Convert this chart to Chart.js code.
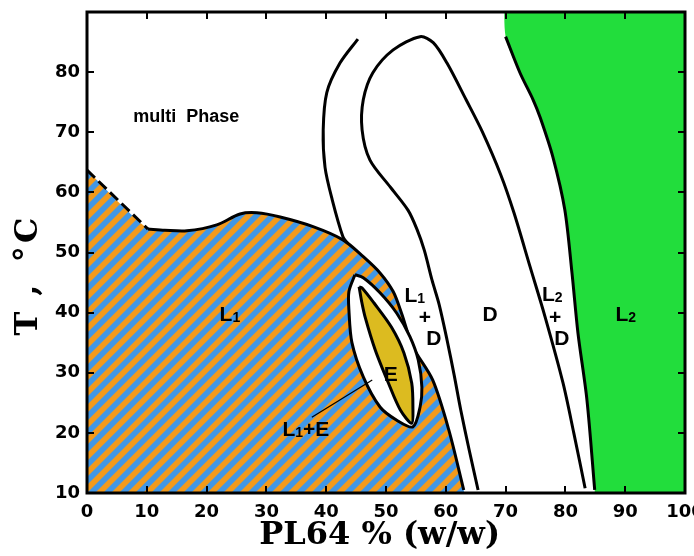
<!DOCTYPE html>
<html>
<head>
<meta charset="utf-8">
<title>PL64 phase diagram</title>
<script src="https://cdn.jsdelivr.net/npm/chart.js@4/dist/chart.umd.min.js"></script>
<style>
  html, body { margin: 0; background: #fff; }
  canvas { display: block; }
</style>
</head>
<body>
<canvas id="phase-chart" width="694" height="556"></canvas>
<script>
/*global Chart */
const xTickValues = [0, 10, 20, 30, 40, 50, 60, 70, 80, 90, 100]
const yTickValues = [10, 20, 30, 40, 50, 60, 70, 80]

// L1 region, dashed top boundary
const dashedX = [0, 10.2]
const dashedY = [63.7, 53.9]

// L1 region, solid boundary down to the x axis
const l1X = [10.2, 13.0, 16.7, 21.7, 25.6, 28.4, 32.3, 37.8, 42.8, 46.2, 49.0, 51.2, 52.6, 54.5, 57.8, 60.5, 63.0]
const l1Y = [53.9, 53.7, 53.6, 54.6, 56.4, 56.6, 55.9, 54.3, 52.1, 49.3, 46.6, 43.5, 39.9, 34.3, 28.8, 20.5, 10.5]

// left line of the loop (meets the L1 boundary)
const lineAX = [45.3, 42.3, 40.1, 39.5, 39.8, 41.0, 42.8, 43.6]
const lineAY = [85.5, 81.5, 76.6, 70.4, 64.2, 58.8, 52.6, 51.5]

// the big inverted U: L1+D on the left, L2+D on the right
const loopX = [65.4, 63.9, 62.5, 61.4, 60.2, 58.9, 57.7, 56.4, 55.2, 53.7, 50.7, 47.3, 46.0, 46.2, 47.8, 51.2, 55.7, 57.9, 60.2, 63.4, 66.1, 69.2, 71.4, 74.1, 76.6, 79.6, 81.4, 83.3]
const loopY = [10.5, 17.2, 23.8, 29.6, 35.5, 41.3, 45.4, 50.4, 53.8, 57.0, 60.9, 65.4, 70.4, 75.4, 79.9, 83.7, 85.9, 84.9, 81.5, 75.4, 70.1, 62.9, 56.6, 47.6, 39.3, 28.3, 20.0, 10.8]

// L2 boundary
const l2X = [70.0, 72.4, 74.6, 75.8, 77.9, 79.9, 81.1, 82.1, 83.6, 84.9]
const l2Y = [85.9, 79.9, 75.4, 72.4, 65.9, 57.1, 46.6, 36.6, 25.5, 10.5]

// L1+E lens (outer) and E (inner)
const lensX = [44.8, 43.8, 43.8, 44.3, 46.2, 49.0, 51.8, 54.5, 55.7, 56.0, 55.4, 54.0, 51.8, 49.0, 46.2, 44.8]
const lensY = [46.3, 43.5, 40.4, 35.0, 29.3, 24.3, 22.1, 21.0, 24.3, 27.6, 32.1, 36.0, 39.9, 43.3, 45.8, 46.3]
const eX = [45.5, 45.9, 46.5, 48.2, 50.4, 52.4, 54.3, 54.5, 54.3, 53.0, 50.9, 48.0, 46.0, 45.5]
const eY = [44.3, 42.0, 39.3, 33.8, 28.3, 23.8, 21.6, 24.3, 28.3, 33.3, 37.6, 41.6, 44.1, 44.3]

// pointer from the L1+E label
const pointerX = [37.6, 47.7]
const pointerY = [22.6, 28.8]

// region labels
const labelText = ['multi  Phase', 'L', 'L', '+', 'D', 'D', 'L', '+', 'D', 'L', 'E', 'L']
const labelSub = ['', '1', '1', '', '', '', '2', '', '', '2', '', '1']
const labelPost = ['', '', '', '', '', '', '', '', '', '', '', '+E']
const labelX = [16.6, 23.9, 54.8, 56.5, 58.0, 67.4, 77.8, 78.3, 79.4, 90.1, 50.8, 36.6]
const labelY = [72.6, 39.5, 42.8, 39.0, 35.5, 39.6, 42.9, 39.1, 35.5, 39.6, 29.6, 20.5]

const orange = '#f29a1c'
const blue = '#4197e6'
const green = '#22dd3c'
const yellow = '#dcbb20'

const points = (xs, ys) => xs.map((x, i) => ({ x, y: ys[i] }))

// diagonal orange/blue bands, rising to the right
const stripes = () => {
  const p = 16
  const tile = document.createElement('canvas')
  tile.width = tile.height = p
  const g = tile.getContext('2d')
  g.fillStyle = blue
  g.fillRect(0, 0, p, p)
  g.fillStyle = orange
  ;[0, p, 2 * p].forEach(c => {
    const a = c - p / 4
    const b = c + p / 4
    g.beginPath()
    g.moveTo(-p, a + p)
    g.lineTo(2 * p, a - 2 * p)
    g.lineTo(2 * p, b - 2 * p)
    g.lineTo(-p, b + p)
    g.closePath()
    g.fill()
  })
  return g.createPattern(tile, 'repeat')
}

const line = (data, extra) => Object.assign({
  data,
  showLine: true,
  borderColor: '#000',
  borderWidth: 3,
  pointRadius: 0,
  tension: 0.3,
  fill: false,
}, extra)

const labelFont = 'bold 21px "Liberation Sans", Arial, sans-serif'
const subFont = 'bold 14px "Liberation Sans", Arial, sans-serif'

const decorations = {
  id: 'decorations',
  afterDatasetsDraw(chart) {
    const { ctx, chartArea: a, scales: { x, y } } = chart
    ctx.save()
    ctx.fillStyle = '#000'
    ctx.textBaseline = 'middle'
    ctx.textAlign = 'left'
    labelText.forEach((text, i) => {
      const font = i === 0 ? 'bold 18px "Liberation Sans", Arial, sans-serif' : labelFont
      ctx.font = font
      const w1 = ctx.measureText(text).width
      const w3 = ctx.measureText(labelPost[i]).width
      ctx.font = subFont
      const w2 = ctx.measureText(labelSub[i]).width
      let px = x.getPixelForValue(labelX[i]) - (w1 + w2 + w3) / 2
      const py = y.getPixelForValue(labelY[i])
      ctx.font = font
      ctx.fillText(text, px, py)
      px += w1
      if (labelSub[i]) {
        ctx.font = subFont
        ctx.fillText(labelSub[i], px, py + 3)
        px += w2
      }
      if (labelPost[i]) {
        ctx.font = font
        ctx.fillText(labelPost[i], px, py)
      }
    })

    ctx.strokeStyle = '#000'
    ctx.lineWidth = 3
    ctx.strokeRect(a.left, a.top, a.right - a.left, a.bottom - a.top)
    ctx.lineWidth = 2
    ctx.beginPath()
    xTickValues.filter(v => v > x.min && v < x.max).forEach(v => {
      const px = Math.round(x.getPixelForValue(v))
      ctx.moveTo(px, a.bottom); ctx.lineTo(px, a.bottom - 7)
      ctx.moveTo(px, a.top); ctx.lineTo(px, a.top + 7)
    })
    yTickValues.filter(v => v > y.min && v < y.max).forEach(v => {
      const py = Math.round(y.getPixelForValue(v))
      ctx.moveTo(a.left, py); ctx.lineTo(a.left + 7, py)
      ctx.moveTo(a.right, py); ctx.lineTo(a.right - 7, py)
    })
    ctx.stroke()
    ctx.restore()
  }
}

const tickFont = { family: '"DejaVu Sans", sans-serif', weight: 'bold', size: 18 }
const titleFont = { family: '"DejaVu Serif", serif', weight: 'bold', size: 32 }

new Chart(document.getElementById('phase-chart'), {
  type: 'scatter',
  data: {
    datasets: [
      line(points(pointerX, pointerY), { borderWidth: 1.3, tension: 0 }),
      line(points(eX, eY), { fill: 'shape', backgroundColor: yellow }),
      line(points(lensX, lensY), { fill: 'shape', backgroundColor: '#fff' }),
      line(points(loopX, loopY)),
      line(points(lineAX, lineAY)),
      line(points(l1X, l1Y)),
      line(points(dashedX, dashedY), { borderDash: [11, 5], tension: 0 }),
      line(points(l2X, l2Y)),
      line(points([-5, 0, ...l1X, 63.6, -5], [68.5, 63.7, ...l1Y, 0, 0]), { borderWidth: 0, fill: 'shape', backgroundColor: stripes() }),
      line(points([69.9, ...l2X, 85.3, 110, 110], [95, ...l2Y, 0, 0, 95]), { borderWidth: 0, fill: 'shape', backgroundColor: green }),
    ]
  },
  options: {
    responsive: false,
    animation: false,
    devicePixelRatio: 1,
    layout: { padding: { top: 12, right: 9, left: 0, bottom: 0 } },
    plugins: { legend: { display: false }, tooltip: { enabled: false } },
    scales: {
      x: {
        type: 'linear',
        min: 0,
        max: 100,
        afterBuildTicks: scale => { scale.ticks = xTickValues.map(value => ({ value })) },
        ticks: { font: tickFont, color: '#000', padding: 9, maxRotation: 0, autoSkip: false },
        grid: { display: false, drawTicks: false },
        border: { display: false },
        title: { display: true, text: 'PL64 % (w/w)\u2009\u2009', font: titleFont, color: '#000', padding: { top: 0, bottom: 1 } },
        afterFit: scale => { scale.height = 63; scale.paddingLeft = 0; scale.paddingRight = 0 },
      },
      y: {
        type: 'linear',
        min: 10,
        max: 90,
        afterBuildTicks: scale => { scale.ticks = yTickValues.map(value => ({ value })) },
        ticks: { font: tickFont, color: '#000', padding: 7, autoSkip: false },
        grid: { display: false, drawTicks: false },
        border: { display: false },
        title: { display: true, text: 'T\u2002,\u2002\u2009°\u200aC\u2003\u2002', font: titleFont, color: '#000', padding: { top: 9, bottom: 0 } },
        afterFit: scale => { scale.width = 87; scale.paddingTop = 0; scale.paddingBottom = 0 },
      },
    },
  },
  plugins: [decorations],
})
</script>
</body>
</html>
